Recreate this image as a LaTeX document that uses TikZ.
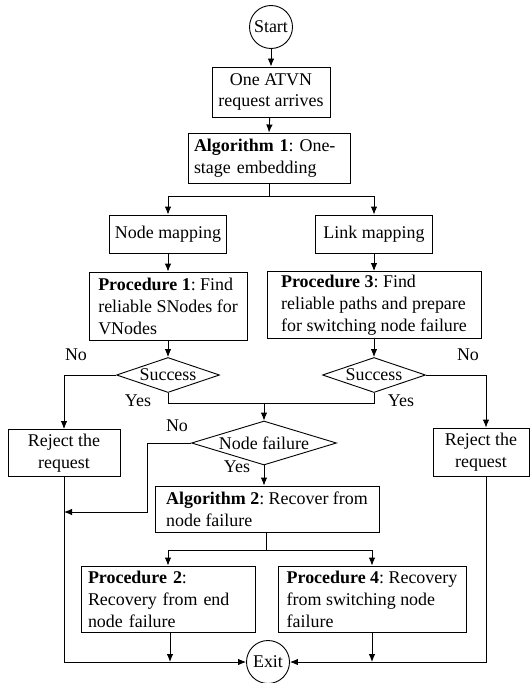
\documentclass[tikz,border=0pt]{standalone}
\usepackage{fontspec}
\setmainfont{Liberation Serif}
\usepackage{tikz}
\usetikzlibrary{shapes.geometric,arrows.meta}
\frenchspacing

\tikzset{
  box/.style={draw, rectangle, line width=0.9bp, inner xsep=5bp, inner ysep=3bp, align=left},
  decision/.style={draw, diamond, line width=0.9bp, inner sep=0pt, aspect=3},
  terminal/.style={draw, circle, line width=0.9bp, inner sep=0pt, minimum size=43bp},
  lbl/.style={inner sep=0pt},
  arr/.style={-{Latex[length=8bp,width=6.5bp]}, line width=0.9bp},
  ln/.style={line width=0.9bp}
}

\begin{document}
\begin{tikzpicture}[x=1bp, y=-1bp, every node/.style={font=\fontsize{18}{22}\selectfont}]
    \useasboundingbox (0,0) rectangle (530,683);

    % Start and request
    \node[terminal] (start) at (271,27) {Start};
    \node[box, align=center, minimum width=118bp, minimum height=50bp] (arrive) at (271,92) {One ATVN\\request arrives};

    % One-stage embedding
    \node[box, inner xsep=6bp, text width=150bp, minimum height=50bp] (alg1) at (269,158) {\textbf{Algorithm 1}: One-\\stage embedding};

    % Mapping
    \node[box, minimum width=117bp, minimum height=38bp] (nodemap) at (168,234) {Node mapping};
    \node[box, minimum width=117bp, minimum height=38bp] (linkmap) at (374,234) {Link mapping};
    \node[box, minimum width=158bp, minimum height=68bp] (proc1) at (168,306) {\textbf{Procedure 1}: Find\\reliable SNodes for\\VNodes};
    \node[box, minimum width=214bp, minimum height=67bp] (proc3) at (374,305) {\textbf{Procedure 3}: Find\\reliable paths and prepare\\for switching node failure};

    % Decisions
    \node[decision, minimum width=103bp, minimum height=35bp] (succ1) at (168,375) {Success};
    \node[decision, minimum width=103bp, minimum height=35bp] (succ2) at (374,375) {Success};
    \node[decision, minimum width=145bp, minimum height=44bp] (nodefail) at (264,443) {Node failure};

    % Rejection
    \node[box, align=center, minimum width=112bp, minimum height=47bp] (rej1) at (64,453) {Reject the\\request};
    \node[box, align=center, minimum width=96bp, minimum height=48bp] (rej2) at (481,452) {Reject the\\request};

    % Recovery
    \node[box, minimum width=224bp, minimum height=46bp] (alg2) at (267,509) {\textbf{Algorithm 2}: Recover from\\node failure};
    \node[box, inner xsep=7bp, text width=160bp, minimum height=66bp] (proc2) at (168,599) {\textbf{Procedure 2}:\\Recovery from end\\node failure};
    \node[box, minimum width=188bp, minimum height=66bp] (proc4) at (372,599) {\textbf{Procedure 4}: Recovery\\from switching node\\failure};

    % Exit
    \node[terminal] (exit) at (268,662) {Exit};

    % Labels
    \node[lbl] (no1) at (76,355) {No};
    \node[lbl] (no2) at (468,355) {No};
    \node[lbl] (no3) at (177,426) {No};
    \node[lbl] (yes1) at (138,401) {Yes};
    \node[lbl] (yes2) at (401,401) {Yes};
    \node[lbl] (yes3) at (237,467) {Yes};

    % Arrows
    \draw[arr] (start) -- (arrive);
    \draw[arr] (arrive) -- (alg1 |- alg1.north);
    \draw[ln] (alg1.south) -- ++(0,13) coordinate (br1);
    \draw[arr] (br1) -| (nodemap);
    \draw[arr] (br1) -| (linkmap);
    \draw[arr] (nodemap) -- (proc1);
    \draw[arr] (linkmap) -- (proc3);
    \draw[arr] (proc1) -- (succ1);
    \draw[arr] (proc3) -- (succ2);
    \draw[arr] (succ1.west) -| (rej1);
    \draw[arr] (succ2.east) -| (rej2.north -| 486,0);
    \draw[ln] (succ1.south) -- ++(0,10) coordinate (j1) -| (succ2.south);
    \draw[arr] (j1 -| nodefail) -- (nodefail);
    \draw[arr] (nodefail.west) -- ++(-44,0) |- (rej1.south |- 0,512);
    \draw[arr] (nodefail.south) -- (nodefail.south |- alg2.north);
    \draw[ln] (alg2.south -| 266,0) -- ++(0,18) coordinate (br2);
    \draw[arr] (br2) -| (proc2);
    \draw[arr] (br2) -| (proc4);
    \draw[arr] (rej1) |- (exit);
    \draw[arr] (rej2.south -| 486,0) |- (exit);
    \draw[arr] (proc2.south -| 170,0) -- (170,662);
    \draw[arr] (proc4) -- (proc4 |- exit);
\end{tikzpicture}
\end{document}
